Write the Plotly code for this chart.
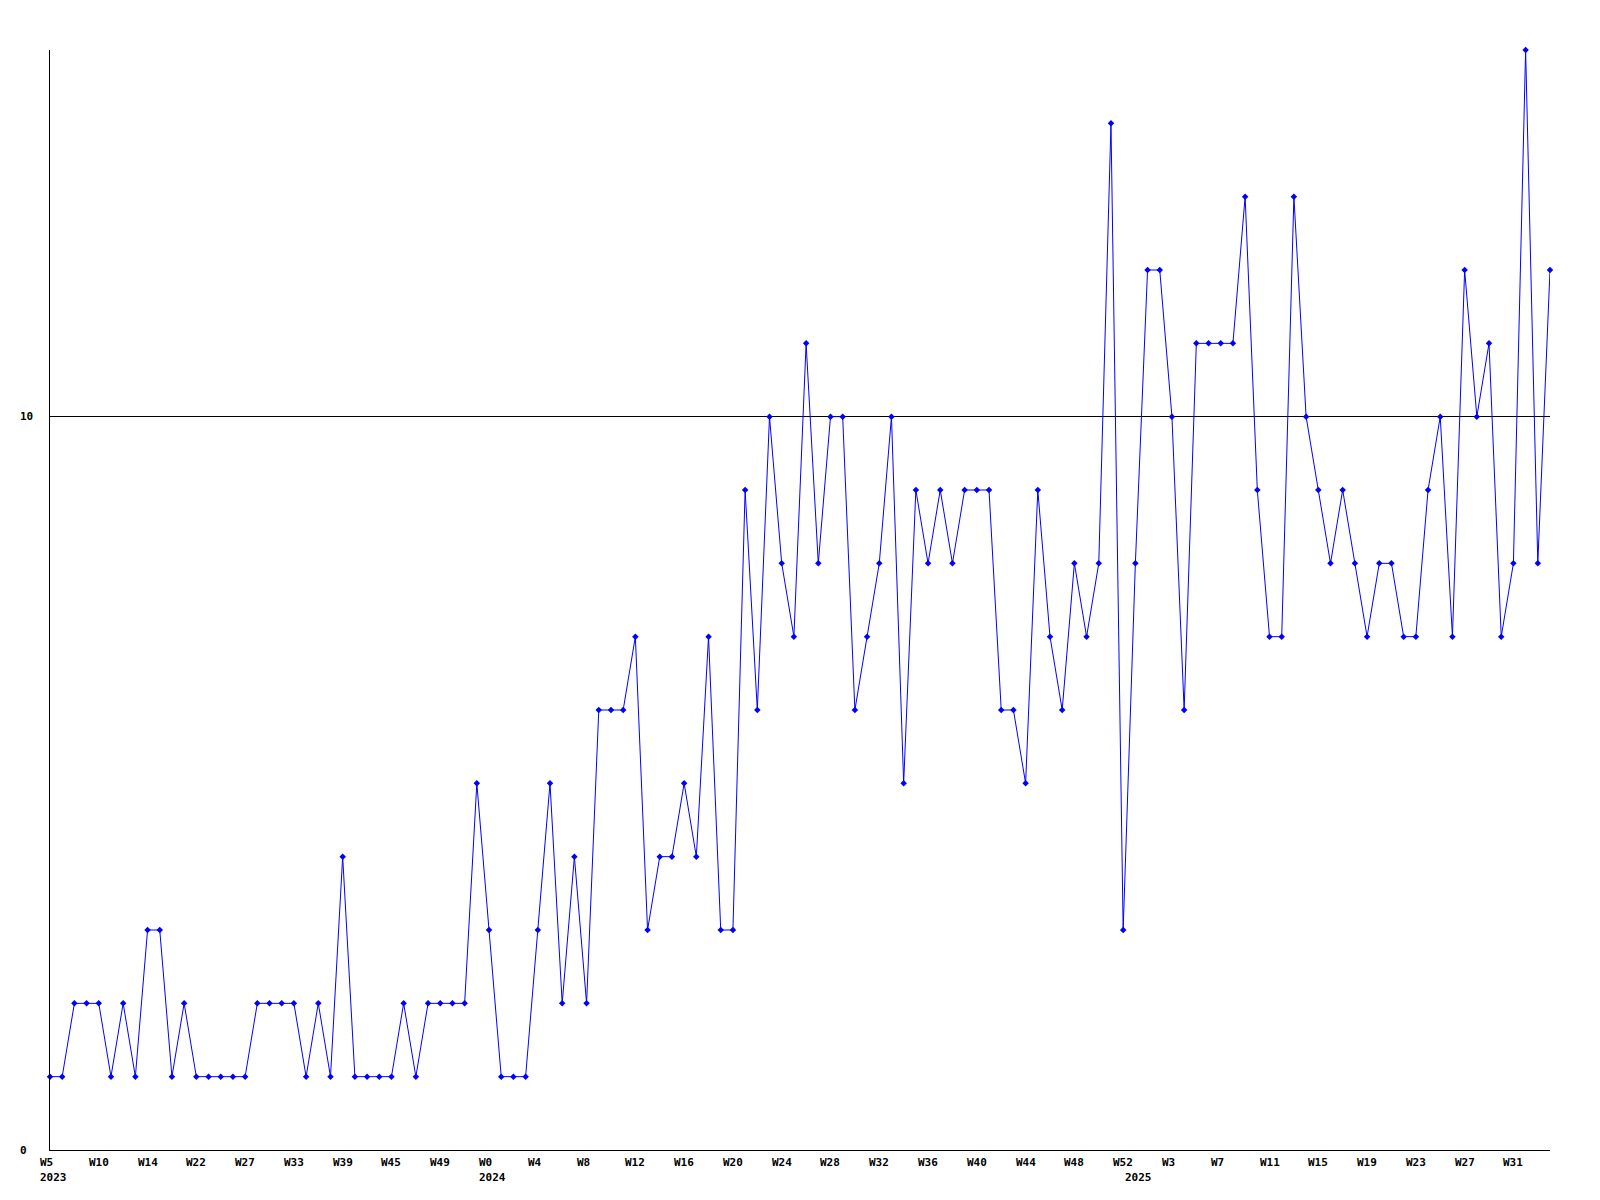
import plotly.graph_objects as go

values = [1, 1, 2, 2, 2, 1, 2, 1, 3, 3, 1, 2, 1, 1, 1, 1, 1, 2, 2, 2,
          2, 1, 2, 1, 4, 1, 1, 1, 1, 2, 1, 2, 2, 2, 2, 5, 3, 1, 1, 1,
          3, 5, 2, 4, 2, 6, 6, 6, 7, 3, 4, 4, 5, 4, 7, 3, 3, 9, 6, 10,
          8, 7, 11, 8, 10, 10, 6, 7, 8, 10, 5, 9, 8, 9, 8, 9, 9, 9, 6, 6,
          5, 9, 7, 6, 8, 7, 8, 14, 3, 8, 12, 12, 10, 6, 11, 11, 11, 11, 13, 9,
          7, 7, 13, 10, 9, 8, 9, 8, 7, 8, 8, 7, 7, 9, 10, 7, 12, 10, 11, 7,
          8, 15, 8, 12]

tick_idx = list(range(0, 121, 4))
tick_labels = ["W5", "W10", "W14", "W22", "W27", "W33", "W39", "W45", "W49",
               "W0", "W4", "W8", "W12", "W16", "W20", "W24", "W28", "W32", "W36",
               "W40", "W44", "W48", "W52", "W3", "W7", "W11", "W15", "W19", "W23",
               "W27", "W31"]
year_idx = [0, 36, 89]
year_labels = ["2023", "2024", "2025"]
y_tick_vals = [0, 10]
y_tick_labels = ["0", "10"]

x = list(range(len(values)))
font = dict(family="DejaVu Sans Mono", size=11, color="black", weight="bold")

fig = go.Figure()
fig.add_trace(go.Scatter(
    x=x, y=values, mode="lines+markers",
    line=dict(color="#0000FF", width=1),
    marker=dict(symbol="diamond", size=5, color="#0000FF"),
    cliponaxis=False, showlegend=False, hoverinfo="skip",
))

annotations = []
for i, t in zip(tick_idx, tick_labels):
    annotations.append(dict(x=i, y=0, xref="x", yref="paper", text=t, showarrow=False,
                            xanchor="left", yanchor="middle", xshift=-12, yshift=-12, font=font))
for i, t in zip(year_idx, year_labels):
    annotations.append(dict(x=i, y=0, xref="x", yref="paper", text=t, showarrow=False,
                            xanchor="left", yanchor="middle", xshift=-12, yshift=-27, font=font))
for v, t in zip(y_tick_vals, y_tick_labels):
    annotations.append(dict(x=0, y=v, xref="paper", yref="y", text=t, showarrow=False,
                            xanchor="left", yanchor="middle", xshift=-32, font=font))

fig.update_layout(
    width=1600, height=1200,
    margin=dict(l=50, r=50, t=50, b=50),
    paper_bgcolor="white", plot_bgcolor="white",
    xaxis=dict(range=[0, len(values) - 1], showgrid=False, zeroline=False,
               showline=True, linecolor="black", linewidth=1,
               showticklabels=False, ticks=""),
    yaxis=dict(range=[0, 15], tickvals=y_tick_vals, showgrid=True, gridcolor="black",
               gridwidth=1, zeroline=False, showline=True, linecolor="black", linewidth=1,
               showticklabels=False, ticks=""),
    annotations=annotations,
)

fig.write_html("out.html", config={"displayModeBar": False},
               post_script="document.body.style.margin='0';")
